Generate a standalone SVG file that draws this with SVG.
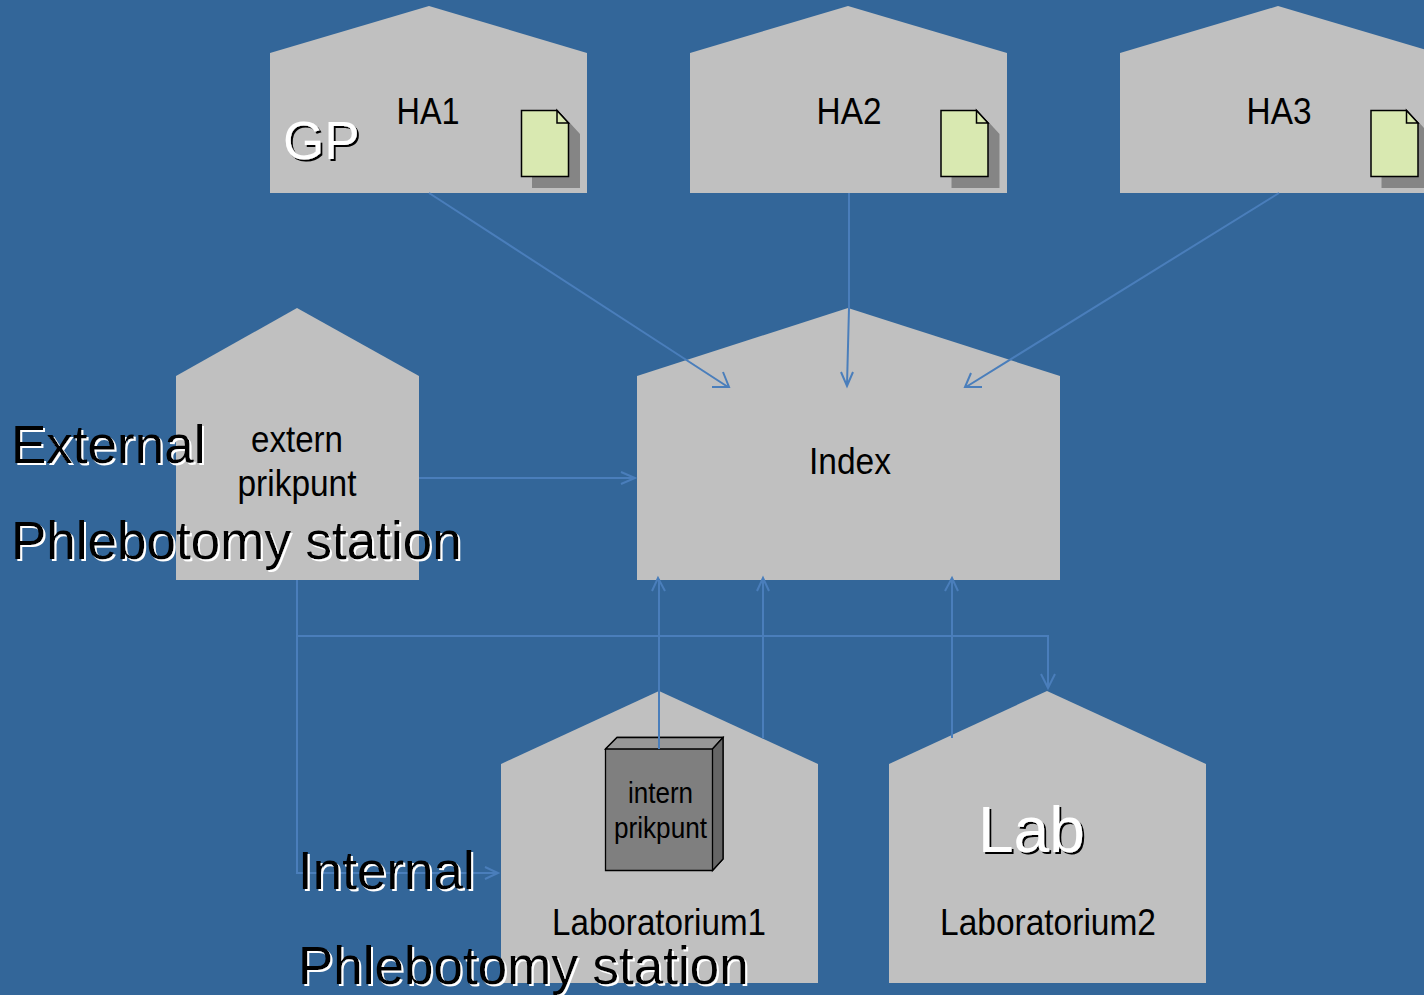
<svg xmlns="http://www.w3.org/2000/svg" width="1424" height="995" viewBox="0 0 1424 995">
<style>
text{font-family:"Liberation Sans",Arial,sans-serif;text-anchor:middle;fill:#000}
.n{fill:#c0c0c0;stroke:none}
.c{fill:none;stroke:#4a7ebb;stroke-width:2}
.t{font-size:36px}
.big{text-anchor:start;font-size:53px}
.dk{filter:url(#sw)}
.lt{fill:#fff;filter:url(#sb)}
.doc{fill:#d9e9b1;stroke:#000;stroke-width:1.5}
.sh{fill:#858585}
</style>
<defs>
<filter id="sw" x="-5%" y="-10%" width="110%" height="120%"><feDropShadow dx="2" dy="2" stdDeviation="0" flood-color="#fff"/></filter>
<filter id="sb" x="-5%" y="-10%" width="110%" height="120%"><feDropShadow dx="2" dy="2" stdDeviation="0" flood-color="#000"/></filter>
<g id="docicon">
<path class="sh" d="M532 122H569L580 134V188H532Z"/>
<path class="doc" d="M521.500 110.500H557L568.500 123V176.500H521.500Z"/>
<path class="doc" d="M557 110.500V123H568.500Z"/>
</g>
</defs>
<rect width="1424" height="995" fill="#336699"/>
<g id="nodes">
<g id="ha1"><path class="n" d="M270 53L429 6L587 53V193H270Z"/><text class="t" x="428" y="124" textLength="63" lengthAdjust="spacingAndGlyphs">HA1</text><use href="#docicon"/></g>
<g id="ha2"><path class="n" d="M690 53L848 6L1007 53V193H690Z"/><text class="t" x="849" y="124" textLength="65" lengthAdjust="spacingAndGlyphs">HA2</text><use href="#docicon" x="419.500"/></g>
<g id="ha3"><path class="n" d="M1120 53L1278 6L1437 53V193H1120Z"/><text class="t" x="1279" y="124" textLength="65" lengthAdjust="spacingAndGlyphs">HA3</text><use href="#docicon" x="849.500"/></g>
<g id="extern"><path class="n" d="M176 376L297 308L419 376V580H176Z"/><text class="t" x="297" y="452" textLength="92" lengthAdjust="spacingAndGlyphs">extern</text><text class="t" x="297" y="496" textLength="119" lengthAdjust="spacingAndGlyphs">prikpunt</text></g>
<g id="index"><path class="n" d="M637 376L848 308L1060 376V580H637Z"/><text class="t" x="850" y="474" textLength="82" lengthAdjust="spacingAndGlyphs">Index</text></g>
<g id="lab1"><path class="n" d="M501 764L659 691L818 764V983H501Z"/><text class="t" x="659" y="935" textLength="214" lengthAdjust="spacingAndGlyphs">Laboratorium1</text></g>
<g id="lab2"><path class="n" d="M889 764L1047 691L1206 764V983H889Z"/><text class="t" x="1048" y="935" textLength="216" lengthAdjust="spacingAndGlyphs">Laboratorium2</text></g>
<g id="internbox">
<path d="M605.500 749L617 737.500H723V859L712.500 870.500H605.500Z" fill="#7f7f7f" stroke="#000" stroke-width="1.300"/>
<path d="M605.500 749L617 737.500H723L712.500 749Z" fill="#989898" stroke="#000" stroke-width="1.300"/>
<path d="M712.500 749L723 737.500V859L712.500 870.500Z" fill="#666" stroke="#000" stroke-width="1.300"/>
<text x="660.500" y="803" font-size="29" textLength="65" lengthAdjust="spacingAndGlyphs">intern</text>
<text x="660.500" y="838" font-size="29" textLength="93" lengthAdjust="spacingAndGlyphs">prikpunt</text>
</g>
</g>
<g id="connectors">
<path class="c" d="M429 193L728 387M723 372L729 387L712 387"/>
<path class="c" d="M849 193V308L847 385M841 372L847 386L853 372"/>
<path class="c" d="M1279 193L966 387M971 373L965 387L982 387"/>
<path class="c" d="M419 478H634M621 472L635 478L621 484"/>
<path class="c" d="M659 749V579M652 591L658 578L665 591"/>
<path class="c" d="M763 738V579M757 591L763 578L769 591"/>
<path class="c" d="M952 738V579M945 591L952 578L958 591"/>
<path class="c" d="M297 580V873H497M485 867L498 873L485 879"/>
<path class="c" d="M297 636H1048V687M1041 674L1048 688L1055 674"/>
</g>
<g id="labels">
<text class="big lt" x="283" y="159">GP</text>
<text class="big dk" x="11" y="463">External</text>
<text class="big dk" x="11" y="559">Phlebotomy station</text>
<text class="big dk" x="298" y="889">Internal</text>
<text class="big dk" x="298" y="984">Phlebotomy station</text>
<text class="big lt" x="978" y="852" style="font-size:64px">Lab</text>
</g>
</svg>
